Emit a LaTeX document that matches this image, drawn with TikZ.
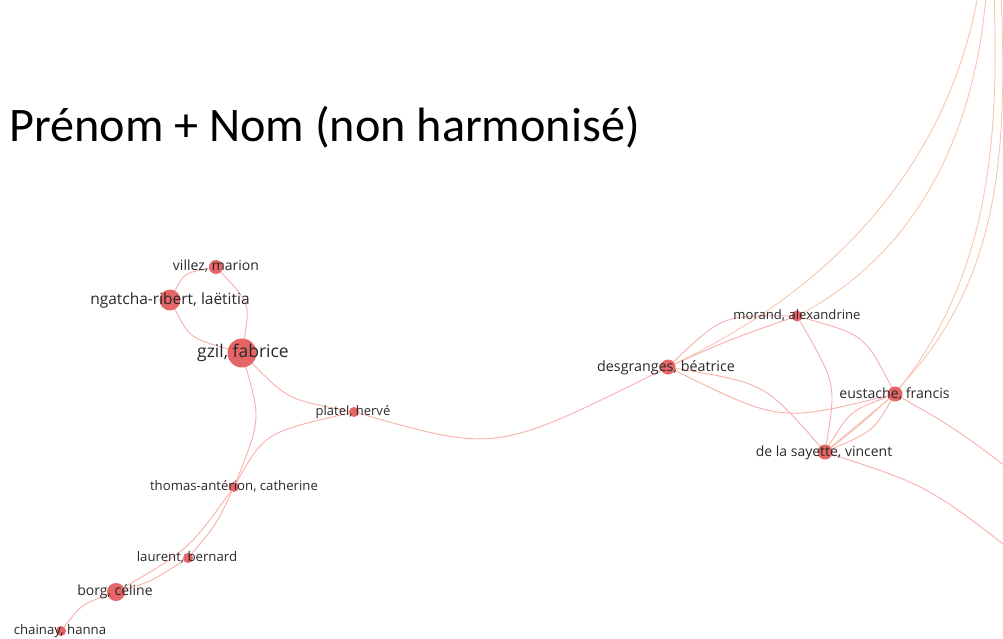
\documentclass[tikz,border=0pt]{standalone}
\usepackage{fontspec}
\setmainfont{Open Sans}
\newfontfamily\titlefont{Carlito}
\pgfdeclarelayer{edges}
\pgfsetlayers{edges,main}
\definecolor{nodered}{RGB}{228,88,90}
\definecolor{edgered}{RGB}{247,175,170}
\definecolor{edgeorange}{RGB}{247,198,175}
\definecolor{labelgray}{RGB}{40,40,40}
\tikzset{
  dot/.style={circle,inner sep=0pt,fill=nodered,fill opacity=0.92,draw=none},
  lbl/.style={text=labelgray,inner sep=0pt,anchor=base},
  fs/.style={font=\fontsize{#1}{#1}\selectfont},
  link/.style={draw=edgered,line width=0.9pt},
  farlink/.style={draw=edgeorange,line width=0.9pt},
}
\begin{document}
\begin{tikzpicture}[x=1pt,y=-1pt]
\useasboundingbox (0,0) rectangle (1003,639);
\clip (0,0) rectangle (1003,639);

% title
\node[anchor=base west,inner sep=0pt,font=\titlefont\fontsize{48.2}{50}\selectfont] (title) at (9,142) {Prénom + Nom (non harmonisé)};

% nodes
\node[dot,minimum size=14pt] (villez) at (216,267) {};
\node[dot,minimum size=21pt] (ngatcha) at (170,300) {};
\node[dot,minimum size=29pt] (gzil) at (242,353) {};
\node[dot,minimum size=10pt] (platel) at (354,412) {};
\node[dot,minimum size=10pt] (thomas) at (234,487) {};
\node[dot,minimum size=10pt] (laurent) at (188,558) {};
\node[dot,minimum size=18pt] (borg) at (116,592) {};
\node[dot,minimum size=10pt] (chainay) at (61,631) {};
\node[dot,minimum size=15pt] (desgranges) at (668,367) {};
\node[dot,minimum size=11pt] (morand) at (797,316) {};
\node[dot,minimum size=15pt] (eustache) at (895,394) {};
\node[dot,minimum size=15pt] (sayette) at (825,452) {};

% off-canvas ends
\coordinate (fa) at (978,-5);
\coordinate (fb) at (986,-5);
\coordinate (fc) at (994,-5);
\coordinate (fd) at (1001,-5);
\coordinate (ea) at (1030,485);
\coordinate (eb) at (1030,565);

\begin{pgfonlayer}{edges}
% west cluster
\draw[link] (villez) .. controls (184.3,273.2) .. (ngatcha);
\draw[link] (villez) .. controls (250,303) .. (gzil);
\draw[link] (ngatcha) .. controls (190,338) .. (gzil);
\draw[link] (gzil) .. controls (288,399.5) .. (platel);
\draw[link] (gzil) .. controls (260.7,420) .. (thomas);
\draw[link] (platel) .. controls (264.7,432.5) .. (thomas);
\draw[link] (thomas) .. controls (215.7,525.5) .. (laurent);
\draw[link] (thomas) .. controls (188.3,549.8) .. (borg);
\draw[link] (laurent) .. controls (150.7,581.7) .. (borg);
\draw[link] (borg) .. controls (81.5,604.5) .. (chainay);
\draw[link] (platel) .. controls (496.3,452.5) .. (desgranges);
% east cluster
\draw[link] (desgranges) .. controls (722.8,315.2) .. (morand);
\draw[link] (desgranges) .. controls (730.8,339.2) .. (morand);
\draw[link] (desgranges) .. controls (779.8,422.2) .. (eustache);
\draw[link] (desgranges) .. controls (764.8,383.2) .. (sayette);
\draw[link] (morand) .. controls (864.7,335) .. (eustache);
\draw[link] (morand) .. controls (836.3,384) .. (sayette);
\draw[link] (eustache) -- (sayette);
\draw[link] (eustache) .. controls (850,411) .. (sayette);
\draw[link] (eustache) .. controls (873.3,431) .. (sayette);
\draw[link] (eustache) .. controls (957.5,429.8) .. (ea);
\draw[link] (sayette) .. controls (929.2,486.2) .. (eb);
% long arcs to the top right
\draw[farlink] (fa) .. controls (950,150) and (850,280) .. (desgranges);
\draw[farlink] (fb) .. controls (975,130) and (920,250) .. (morand);
\draw[farlink] (fc) .. controls (1000,150) and (985,280) .. (eustache);
\draw[farlink] (fd) .. controls (1010,200) and (990,330) .. (sayette);
\end{pgfonlayer}

% labels
\node[lbl,fs=14] (villez-t) at (216,270.8) {villez, marion};
\node[lbl,fs=15.5] (ngatcha-t) at (170,304.2) {ngatcha-ribert, laëtitia};
\node[lbl,fs=17.5] (gzil-t) at (243,357.5) {gzil, fabrice};
\node[lbl,fs=13] (platel-t) at (353,415.5) {platel, hervé};
\node[lbl,fs=13.2] (thomas-t) at (234,490.6) {thomas-antérion, catherine};
\node[lbl,fs=13.2] (laurent-t) at (187,561.6) {laurent, bernard};
\node[lbl,fs=14] (borg-t) at (115,595.5) {borg, céline};
\node[lbl,fs=13.2] (chainay-t) at (60,634.6) {chainay, hanna};
\node[lbl,fs=14.3] (desgranges-t) at (666,371.8) {desgranges, béatrice};
\node[lbl,fs=13.1] (morand-t) at (797,319) {morand, alexandrine};
\node[lbl,fs=14.1] (eustache-t) at (894.5,398) {eustache, francis};
\node[lbl,fs=14] (sayette-t) at (824,456.5) {de la sayette, vincent};
\end{tikzpicture}
\end{document}
